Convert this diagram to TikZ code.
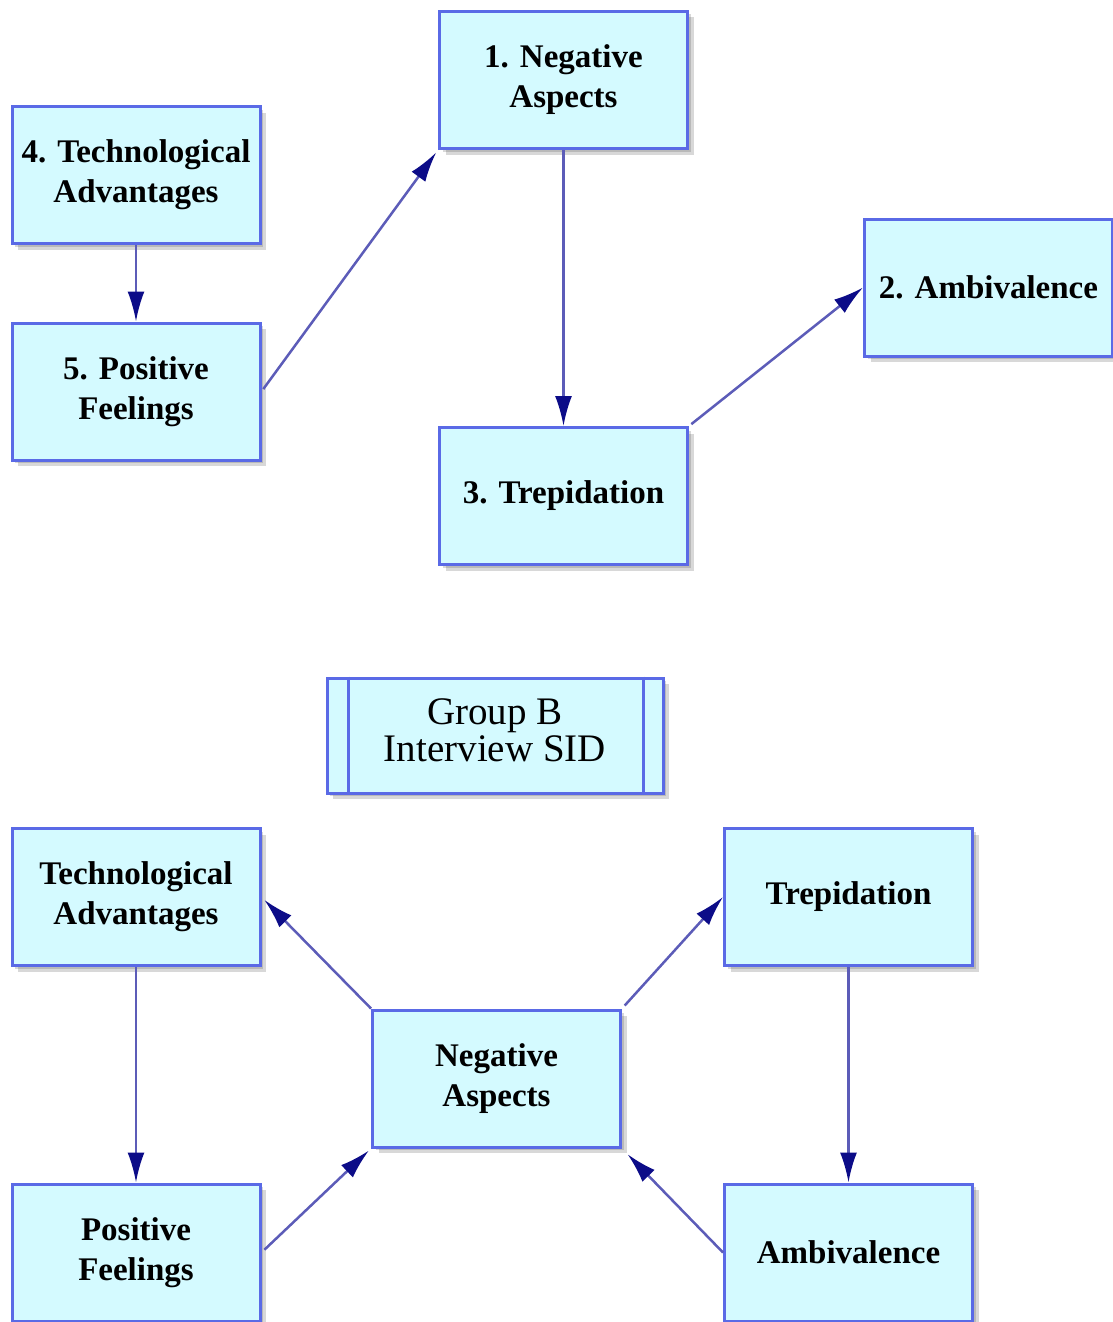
\documentclass[tikz,border=0pt]{standalone}
\usepackage{fontspec}
\setmainfont{Liberation Serif}
\usetikzlibrary{arrows.meta,shadows}
\definecolor{boxfill}{HTML}{D4FAFF}
\definecolor{boxline}{HTML}{5A6AE6}
\definecolor{linkline}{HTML}{5C5CB8}
\definecolor{linkhead}{HTML}{0C0C88}
\tikzset{
  stage/.style={draw=boxline, line width=3pt, fill=boxfill,
    minimum width=248pt, minimum height=137pt, align=center, inner sep=2pt,
    font=\fontsize{33}{40}\selectfont\bfseries,
    double copy shadow={shadow xshift=3pt, shadow yshift=-3pt, opacity=0.22,
      fill=black!70, draw=none}},
  titlebox/.style={stage, minimum width=336pt, minimum height=115pt},
  titletext/.style={align=center, inner sep=0pt, font=\fontsize{39}{37}\selectfont},
  link/.style={draw=linkline, line width=2.5pt,
    -{Latex[length=30pt,width=17pt,fill=linkhead,color=linkhead]}}
}
\begin{document}
\begin{tikzpicture}[x=1pt,y=-1pt]
\useasboundingbox (0,0) rectangle (1112,1322);

% upper diagram
\node[stage] (neg1) at (563.5,80)  {1. Negative\\Aspects};
\node[stage] (tech4) at (136,175)  {4. Technological\\Advantages};
\node[stage] (pos5) at (136,391.5) {5. Positive\\Feelings};
\node[stage] (amb2) at (988.5,287.5) {2. Ambivalence};
\node[stage] (trep3) at (563.5,496) {3. Trepidation};

\draw[link] (tech4.south) -- (pos5.north);
\draw[link, shorten <=3pt, shorten >=3pt] (pos5.east) -- (neg1.south west);
\draw[link] (neg1.south) -- (trep3.north);
\draw[link, shorten <=3pt] (trep3.north east) -- (amb2.west);

% title box with double side rules
\node[titlebox] (grp) at (495,735.5) {};
\draw[boxline, line width=3pt] ([xshift=23pt]grp.north west) -- ([xshift=23pt]grp.south west);
\draw[boxline, line width=3pt] ([xshift=-21pt]grp.north east) -- ([xshift=-21pt]grp.south east);
\node[titletext] (grptext) at ([yshift=5pt]grp.center) {Group B\\Interview SID};

% lower diagram
\node[stage] (tech) at (136,897)    {Technological\\Advantages};
\node[stage] (trep) at (848.5,897)  {Trepidation};
\node[stage] (neg)  at (496.5,1078.5) {Negative\\Aspects};
\node[stage] (pos)  at (136,1252.5) {Positive\\Feelings};
\node[stage] (amb)  at (848.5,1252.5) {Ambivalence};

\draw[link, shorten >=4pt] (neg.north west) -- (tech.east);
\draw[link, shorten <=4pt] (neg.north east) -- (trep.west);
\draw[link] (trep.south) -- (amb.north);
\draw[link, shorten >=8pt] (amb.west) -- (neg.south east);
\draw[link, shorten <=4pt, shorten >=3pt] (pos.east) -- (neg.south west);
\draw[link] (tech.south) -- (pos.north);
\end{tikzpicture}
\end{document}
